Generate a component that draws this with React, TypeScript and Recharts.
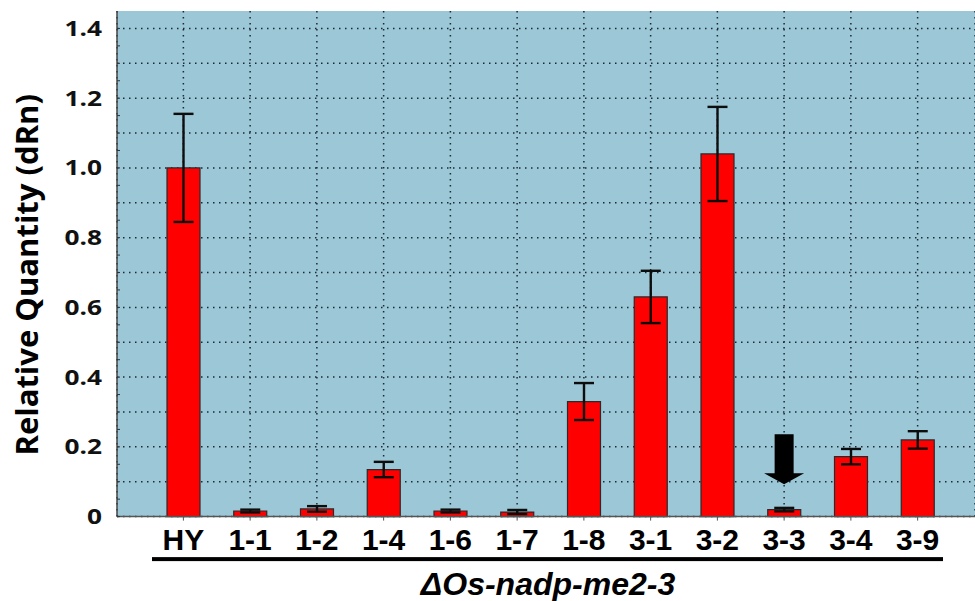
import { BarChart, Bar, XAxis, YAxis, CartesianGrid, ErrorBar, ReferenceDot } from "recharts";

// lines tested, relative quantity (dRn) and SD
const lines = ["HY", "1-1", "1-2", "1-4", "1-6", "1-7", "1-8", "3-1", "3-2", "3-3", "3-4", "3-9"];
const quantity = [1.0, 0.016, 0.022, 0.135, 0.016, 0.013, 0.33, 0.63, 1.04, 0.02, 0.172, 0.22];
const errors = [0.155, 0.004, 0.008, 0.022, 0.004, 0.006, 0.053, 0.075, 0.135, 0.005, 0.022, 0.025];

const yLabelTicks = [0, 0.2, 0.4, 0.6, 0.8, 1.0, 1.2, 1.4];
const yGridValues = [0, 0.1, 0.2, 0.3, 0.4, 0.5, 0.6, 0.7, 0.8, 0.9, 1.0, 1.1, 1.2, 1.3, 1.4];
const yMinorTicks = [
  0, 0.05, 0.1, 0.15, 0.2, 0.25, 0.3, 0.35, 0.4, 0.45, 0.5, 0.55, 0.6, 0.65, 0.7,
  0.75, 0.8, 0.85, 0.9, 0.95, 1.0, 1.05, 1.1, 1.15, 1.2, 1.25, 1.3, 1.35, 1.4,
];

const markedLine = "3-3";
const arrowTip = 0.093;
const groupTitle = "ΔOs-nadp-me2-3";

const data = lines.map((name, i) => ({ name, value: quantity[i], err: errors[i] }));

const YTick = (props: any) => {
  const { x, y, payload } = props;
  const v = payload.value;
  const labeled = yLabelTicks.some((t) => Math.abs(t - v) < 1e-6);
  return (
    <g>
      <line x1={x} x2={x + 3} y1={y} y2={y} stroke="#333" strokeWidth={1} />
      {labeled && (
        <text
          transform={`translate(${x - 15},${y}) scale(1.25,1)`}
          textAnchor="end"
          dy="0.36em"
          fontFamily="Open Sans"
          fontWeight={700}
          fontSize={21}
          fill="#111"
        >
          {v === 0 ? "0" : v.toFixed(1)}
        </text>
      )}
    </g>
  );
};

const XTick = (props: any) => {
  const { x, y, payload } = props;
  return (
    <g>
      <line x1={x} x2={x} y1={y} y2={y + 4} stroke="#555" strokeWidth={1} />
      <text
        x={x}
        y={y + 33}
        textAnchor="middle"
        fontFamily="Liberation Sans, Arial"
        fontWeight={700}
        fontSize={30}
        fill="#000"
      >
        {payload.value}
      </text>
    </g>
  );
};

const GroupLabel = (props: any) => {
  const { x, y } = props.viewBox;
  return (
    <g>
      <rect x={x + 35} y={y + 40.5} width={791} height={4} fill="#000" />
      <text
        x={x + 431}
        y={y + 78}
        textAnchor="middle"
        fontFamily="Liberation Sans, Arial"
        fontStyle="italic"
        fontWeight={700}
        fontSize={32}
        fill="#000"
      >
        {groupTitle}
      </text>
    </g>
  );
};

const YTitle = (props: any) => {
  const { x, y, height } = props.viewBox;
  const cx = x + 37.5;
  const cy = y + height / 2 + 11;
  return (
    <text
      transform={`translate(${cx},${cy}) rotate(-90)`}
      textAnchor="middle"
      fontFamily="Open Sans"
      fontWeight={700}
      fontSize={31}
      fill="#000"
    >
      Relative Quantity (dRn)
    </text>
  );
};

const Arrow = (props: any) => {
  const { cx, cy } = props;
  return (
    <path
      d={`M${cx},${cy} L${cx - 20},${cy - 11} L${cx - 9.5},${cy - 11} L${cx - 9.5},${cy - 50} L${cx + 9.5},${cy - 50} L${cx + 9.5},${cy - 11} L${cx + 20},${cy - 11} Z`}
      fill="#000"
    />
  );
};

export default function App() {
  return (
    <div style={{ position: "absolute", left: 0, top: 0, width: 975, height: 601, background: "#fff" }}>
      <BarChart width={975} height={601} data={data} margin={{ top: 11, right: 0, bottom: 44.4, left: 0 }}>
        <CartesianGrid
          fill="#9bc7d6"
          stroke="#1c2a33"
          strokeWidth={1.5}
          strokeDasharray="1.5 4.5"
          horizontalValues={yGridValues}
        />
        <XAxis
          dataKey="name"
          height={40}
          padding={{ left: 33, right: 24 }}
          tickLine={false}
          tickSize={0}
          tickMargin={0}
          axisLine={{ stroke: "#555", strokeWidth: 1.5 }}
          tick={<XTick />}
          interval={0}
          label={{ content: <GroupLabel /> } as any}
        />
        <YAxis
          width={117}
          domain={[0, 1.45]}
          ticks={yMinorTicks}
          interval={0}
          tickLine={false}
          tickSize={0}
          tickMargin={0}
          axisLine={{ stroke: "#444", strokeWidth: 1.5 }}
          tick={<YTick />}
          label={{ content: <YTitle /> } as any}
        />
        <Bar dataKey="value" fill="#ff0000" stroke="#2a2a2a" strokeWidth={1.2} barSize={33} isAnimationActive={false}>
          <ErrorBar dataKey="err" width={10} stroke="#0d0d0d" strokeWidth={2.4} isAnimationActive={false} />
        </Bar>
        <ReferenceDot x={markedLine} y={arrowTip} r={0} shape={<Arrow />} ifOverflow="visible" />
      </BarChart>
    </div>
  );
}
